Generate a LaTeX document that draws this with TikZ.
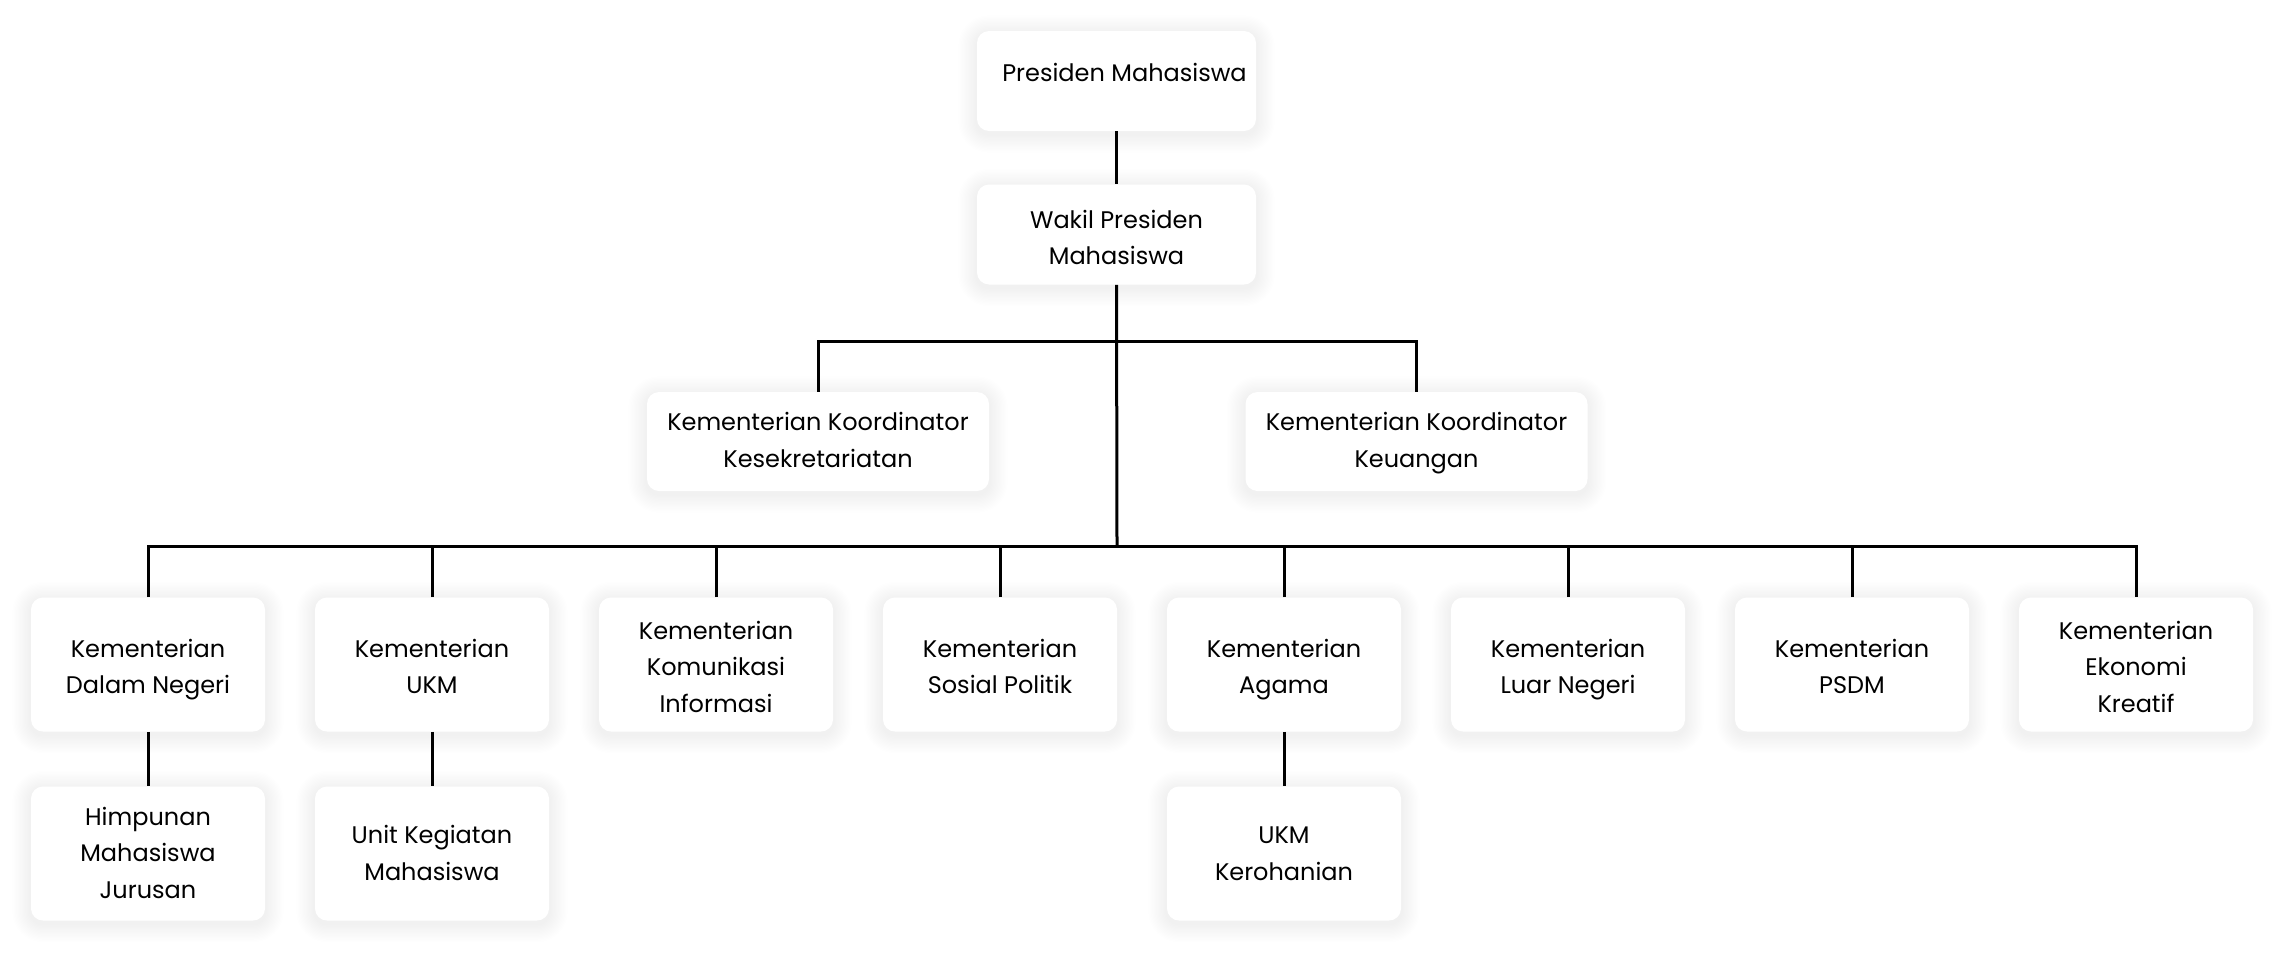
\documentclass[tikz,border=0pt]{standalone}
\usepackage{fontspec}
\setmainfont{Poppins}
\usetikzlibrary{backgrounds}
% #1: how far the lines are lowered below the box centre
\newcommand\ml[2][0pt]{\begin{tabular}{@{}c@{}}\rule{0pt}{\dimexpr 12.81pt+2\dimexpr#1\relax\relax}#2\end{tabular}}
\begin{document}
\begin{tikzpicture}[x=0.5pt,y=-0.5pt,
  box/.style={draw=none, fill=white, rounded corners=6pt,
    font=\fontsize{12}{18.3}\selectfont, inner sep=0pt},
  topbox/.style={box, minimum width=139.5pt, minimum height=50pt},
  koorbox/.style={box, minimum width=171pt, minimum height=49.5pt},
  unitbox/.style={box, minimum width=117pt, minimum height=67pt},
  conn/.style={draw=black, line width=1.5pt}]
\useasboundingbox (0,0) rectangle (2284,953);

\node[topbox] (pres) at (1116.5,81) {\hspace*{8pt}\raisebox{0pt}[12.15pt][12.9pt]{\ml{Presiden Mahasiswa}}};
\node[topbox] (wakil) at (1116.5,234.5) {\ml[2.4pt]{Wakil Presiden\\Mahasiswa}};
\node[koorbox] (kkes) at (818,441.5) {\ml{Kementerian Koordinator\\Kesekretariatan}};
\node[koorbox] (kkeu) at (1416.5,441.5) {\ml{Kementerian Koordinator\\Keuangan}};

\node[unitbox] (b1) at (148,664.5) {\ml[1.9pt]{Kementerian\\Dalam Negeri}};
\node[unitbox] (b2) at (432,664.5) {\ml[1.9pt]{Kementerian\\UKM}};
\node[unitbox] (b3) at (716,664.5) {\ml[1.9pt]{Kementerian\\Komunikasi\\Informasi}};
\node[unitbox] (b4) at (1000,664.5) {\ml[1.9pt]{Kementerian\\Sosial Politik}};
\node[unitbox] (b5) at (1284,664.5) {\ml[1.9pt]{Kementerian\\Agama}};
\node[unitbox] (b6) at (1568,664.5) {\ml[1.9pt]{Kementerian\\Luar Negeri}};
\node[unitbox] (b7) at (1852,664.5) {\ml[1.9pt]{Kementerian\\PSDM}};
\node[unitbox] (b8) at (2136,664.5) {\ml[1.9pt]{Kementerian\\Ekonomi\\Kreatif}};

\node[unitbox] (s1) at (148,853.5) {\ml[0.5pt]{Himpunan\\Mahasiswa\\Jurusan}};
\node[unitbox] (s2) at (432,853.5) {\ml[0.5pt]{Unit Kegiatan\\Mahasiswa}};
\node[unitbox] (s5) at (1284,853.5) {\ml[0.5pt]{UKM\\Kerohanian}};

\begin{scope}[on background layer]
  \fill[white] (0,0) rectangle (2284,953);
  \foreach \n in {pres,wakil,kkes,kkeu,b1,b2,b3,b4,b5,b6,b7,b8,s1,s2,s5} {
    \foreach \i in {1,...,14} {
      \pgfmathsetmacro\e{0.65*\i}
      \pgfmathsetmacro\r{6+\e}
      \fill[black, opacity=0.005, rounded corners=\r pt]
        ([xshift=-\e pt, yshift=-\e pt-1.5pt]\n.south west) rectangle
        ([xshift=\e pt, yshift=\e pt-1.5pt]\n.north east);
    }
  }
\end{scope}

\coordinate (j1) at (1117,341);
\coordinate (j2) at (1117,546);

\draw[conn] (pres.south) -- (wakil.north);
\draw[conn] (wakil.south) -- (j2);
\draw[conn] (kkes.north) -- (kkes.north |- j1) -- (kkeu.north |- j1) -- (kkeu.north);
\draw[conn] (b1.north) -- (b1.north |- j2) -- (b8.north |- j2) -- (b8.north);
\foreach \b in {b2,b3,b4,b5,b6,b7} {
  \draw[conn] (\b.north) -- (\b.north |- j2);
}
\draw[conn] (b1.south) -- (s1.north);
\draw[conn] (b2.south) -- (s2.north);
\draw[conn] (b5.south) -- (s5.north);
\end{tikzpicture}
\end{document}
